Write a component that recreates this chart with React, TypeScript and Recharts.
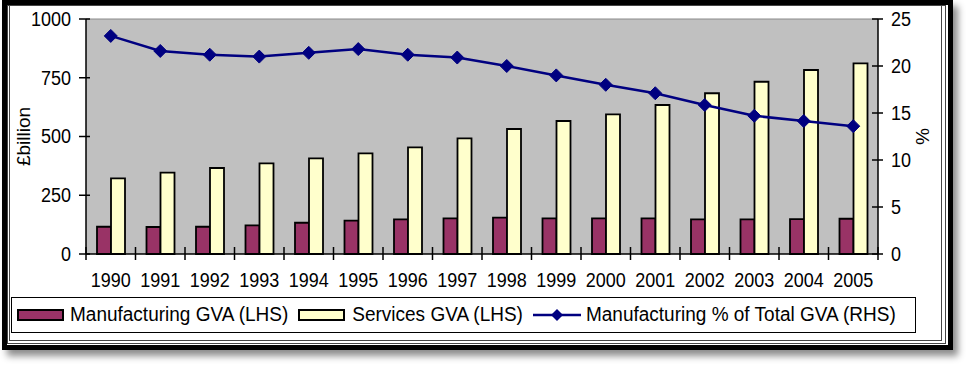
import React from 'react';
import { ComposedChart, Bar, Line, XAxis, YAxis, CartesianGrid, ReferenceLine, Label } from 'recharts';

const years = ['1990', '1991', '1992', '1993', '1994', '1995', '1996', '1997', '1998', '1999', '2000', '2001', '2002', '2003', '2004', '2005'];
const manufacturingGVA = [116, 115, 116, 122, 133, 142, 147, 152, 155, 152, 152, 152, 147, 147, 148, 150];
const servicesGVA = [322, 346, 366, 386, 407, 428, 454, 492, 532, 566, 594, 634, 684, 733, 783, 811];
const manufacturingPct = [23.2, 21.6, 21.2, 21.0, 21.4, 21.8, 21.2, 20.9, 20.0, 19.0, 18.0, 17.1, 15.85, 14.7, 14.15, 13.6];
const leftTicks = [0, 250, 500, 750, 1000];
const rightTicks = [0, 5, 10, 15, 20, 25];
const seriesNames = ['Manufacturing GVA (LHS)', 'Services GVA (LHS)', 'Manufacturing % of Total GVA (RHS)'];
const leftAxisTitle = '£billion';
const rightAxisTitle = '%';

const COLORS = { manuf: '#993366', services: '#FFFFCC', line: '#000080', plot: '#C0C0C0' };
const FONT = '"Liberation Sans", Arial, sans-serif';
const SY = 1.08;

const data = years.map((y, i) => ({
  year: y,
  manuf: manufacturingGVA[i],
  services: servicesGVA[i],
  pct: manufacturingPct[i],
}));

const StretchText = ({ x, y, anchor, children, size = 18 }: any) => (
  <text x={x} y={y} transform={`translate(0, ${y}) scale(1, ${SY}) translate(0, ${-y})`} textAnchor={anchor} fontSize={size} fontFamily={FONT} fill="#000">{children}</text>
);

const LeftTick = (props: any) => {
  const { x, y, payload } = props;
  const ax = x + 15;
  return (
    <g>
      <line x1={ax - 7} x2={ax + 4} y1={y} y2={y} stroke="#000" strokeWidth={1.5} />
      <StretchText x={x} y={y + 7} anchor="end">{payload.value}</StretchText>
    </g>
  );
};

const RightTick = (props: any) => {
  const { x, y, payload } = props;
  const ax = x - 13;
  return (
    <g>
      <line x1={ax - 6} x2={ax + 5} y1={y} y2={y} stroke="#000" strokeWidth={1.5} />
      <StretchText x={x} y={y + 7} anchor="start">{payload.value}</StretchText>
    </g>
  );
};

const XTick = (props: any) => {
  const { x, y, payload, index, visibleTicksCount } = props;
  const half = payload && typeof payload.offset === 'number' && payload.offset > 0 ? payload.offset : 24.75;
  const last = index === (visibleTicksCount ?? years.length) - 1;
  return (
    <g>
      <line x1={x - half} x2={x - half} y1={y - 7} y2={y + 6} stroke="#000" strokeWidth={1.5} />
      {last && <line x1={x + half} x2={x + half} y1={y - 7} y2={y + 6} stroke="#000" strokeWidth={1.5} />}
      <StretchText x={x} y={y + 33} anchor="middle">{payload.value}</StretchText>
    </g>
  );
};

const Diamond = (props: any) => {
  const { cx, cy } = props;
  if (cx == null || cy == null) return null;
  const r = 6.5;
  return <polygon points={`${cx},${cy - r} ${cx + r},${cy} ${cx},${cy + r} ${cx - r},${cy}`} fill={COLORS.line} stroke={COLORS.line} strokeWidth={1} />;
};

const Swatch = ({ color }: { color: string }) => (
  <div style={{ width: 47, height: 12, background: color, border: '2px solid #000', boxSizing: 'border-box', flex: '0 0 auto' }} />
);

const LineSwatch = () => (
  <svg width={48} height={14} style={{ flex: '0 0 auto' }}>
    <line x1={0} x2={48} y1={7} y2={7} stroke={COLORS.line} strokeWidth={2.5} />
    <polygon points="24,1 30,7 24,13 18,7" fill={COLORS.line} />
  </svg>
);

const legendText: React.CSSProperties = { display: 'inline-block', transform: `scaleY(${SY})` };

export default function App() {
  return (
    <div style={{ position: 'absolute', left: 0, top: 0, width: 967, height: 365, background: '#fff', fontFamily: FONT, overflow: 'hidden' }}>
      <div style={{ position: 'absolute', left: 2, top: 0, width: 951, height: 350, border: '5px solid #000', boxSizing: 'border-box', boxShadow: '5px 6px 7px rgba(0,0,0,0.45)' }} />
      <div style={{ position: 'absolute', left: 7, top: 5, width: 939, height: 339, border: '1px solid #444', boxSizing: 'border-box' }} />
      <div style={{ position: 'absolute', left: 9, top: 5, width: 933, height: 336, border: '1px solid #444', borderTop: 'none', boxSizing: 'border-box' }} />
      <div style={{ position: 'absolute', left: 0, top: 0 }}>
        <ComposedChart width={967} height={365} data={data} margin={{ top: 19, right: 0, left: 0, bottom: 0 }} barGap={0}>
          <CartesianGrid horizontal={false} vertical={false} fill={COLORS.plot} stroke="none" yAxisId="left" />
          <XAxis dataKey="year" height={111} interval={0} tickLine={false} tickSize={0} tickMargin={0}
            axisLine={{ stroke: '#000', strokeWidth: 1.5 }} tick={<XTick />} />
          <YAxis yAxisId="left" orientation="left" width={86} domain={[0, 1000]} ticks={leftTicks} interval={0}
            tickLine={false} tickSize={0} tickMargin={15} axisLine={{ stroke: '#000', strokeWidth: 1.5 }} tick={<LeftTick />}>
            <Label content={(p: any) => {
              const vb = p.viewBox || { x: 0, y: 19, width: 86, height: 235 };
              const cx = vb.x + 23;
              const cy = vb.y + vb.height / 2;
              return <text x={cx} y={cy} transform={`rotate(-90, ${cx}, ${cy})`} textAnchor="middle" dominantBaseline="central" fontSize={19} fontFamily={FONT} fill="#000">{leftAxisTitle}</text>;
            }} />
          </YAxis>
          <YAxis yAxisId="right" orientation="right" width={89} domain={[0, 25]} ticks={rightTicks} interval={0}
            tickLine={false} tickSize={0} tickMargin={13} axisLine={{ stroke: '#000', strokeWidth: 1.5 }} tick={<RightTick />}>
            <Label content={(p: any) => {
              const vb = p.viewBox || { x: 878, y: 19, width: 89, height: 235 };
              const cx = vb.x + 44;
              const cy = vb.y + vb.height / 2;
              return <text x={cx} y={cy} transform={`rotate(90, ${cx}, ${cy})`} textAnchor="middle" dominantBaseline="central" fontSize={19} fontFamily={FONT} fill="#000">{rightAxisTitle}</text>;
            }} />
          </YAxis>
          <ReferenceLine yAxisId="left" y={1000} stroke="#8a8a8a" strokeWidth={1} />
          <Bar yAxisId="left" dataKey="manuf" name={seriesNames[0]} fill={COLORS.manuf} stroke="#000" strokeWidth={1.8} barSize={14} isAnimationActive={false} />
          <Bar yAxisId="left" dataKey="services" name={seriesNames[1]} fill={COLORS.services} stroke="#000" strokeWidth={1.8} barSize={14} isAnimationActive={false} />
          <Line yAxisId="right" dataKey="pct" name={seriesNames[2]} type="linear" stroke={COLORS.line} strokeWidth={2.5} dot={<Diamond />} activeDot={false} isAnimationActive={false} />
        </ComposedChart>
      </div>
      <div style={{ position: 'absolute', left: 11, top: 297, width: 905, height: 36, border: '1.5px solid #000', boxSizing: 'border-box', display: 'flex', alignItems: 'center', paddingLeft: 5, fontSize: 19, color: '#000', whiteSpace: 'nowrap' }}>
        <Swatch color={COLORS.manuf} />
        <span style={{ ...legendText, marginLeft: 6 }}>{seriesNames[0]}</span>
        <div style={{ marginLeft: 10 }}><Swatch color={COLORS.services} /></div>
        <span style={{ ...legendText, marginLeft: 7 }}>{seriesNames[1]}</span>
        <div style={{ marginLeft: 10, display: 'flex' }}><LineSwatch /></div>
        <span style={{ ...legendText, marginLeft: 5 }}>{seriesNames[2]}</span>
      </div>
    </div>
  );
}
